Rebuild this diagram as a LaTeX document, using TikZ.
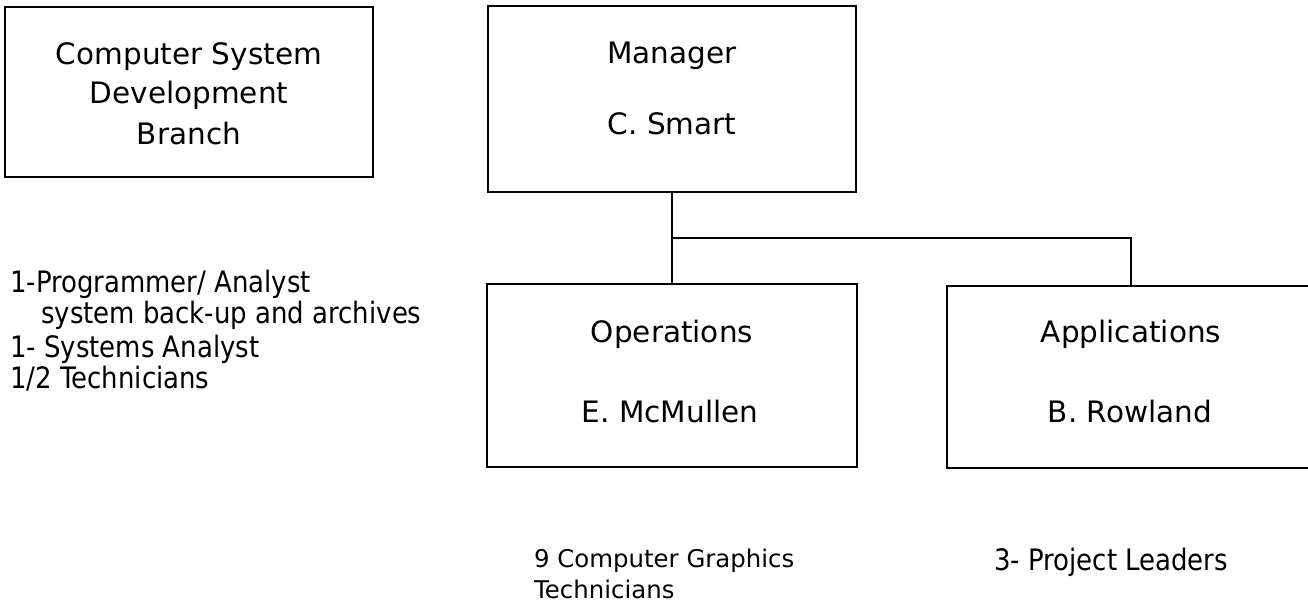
\documentclass[tikz,border=0pt]{standalone}
\usepackage{fontspec}
\setmainfont{DejaVu Sans}
\newfontfamily\narrowfam[FakeStretch=0.88]{DejaVu Sans}
\newcommand\bxfont{\fontsize{29.5}{35}\selectfont}
\newcommand\lstfont{\narrowfam\fontsize{29.5}{35}\selectfont}
\newcommand\btmfont{\fontsize{24.4}{30}\selectfont}
\begin{document}
\begin{tikzpicture}[x=1pt,y=-1pt,
  orgbox/.style={draw=black, line width=1.9pt, rectangle, inner sep=0pt, minimum width=368pt},
  ctext/.style={inner sep=0pt, anchor=base, font=\bxfont},
  ltext/.style={inner sep=0pt, anchor=base west, font=\lstfont},
  btext/.style={inner sep=0pt, anchor=base west, font=\btmfont},
  conn/.style={draw=black, line width=1.9pt}]
\useasboundingbox (0,0) rectangle (1308,607);
\fill[white] (0,0) rectangle (1308,607);
% boxes
\node[orgbox, minimum height=170pt] (branch) at (189,92) {};
\node[orgbox, minimum height=186pt] (mgr) at (672,99) {};
\node[orgbox, minimum width=370pt, minimum height=183pt] (ops) at (672,375.5) {};
\node[orgbox, minimum height=182pt] (app) at (1131,377) {};
% box texts
\node[ctext] (t1) at (189,65) {Computer System};
\node[ctext] (t2) at (189,104) {Development};
\node[ctext] (t3) at (189,144) {Branch};
\node[ctext] (t4) at (672,64) {Manager};
\node[ctext] (t5) at (672,135) {C. Smart};
\node[ctext] (t6) at (672,342) {Operations};
\node[ctext] (t7) at (670,422) {E. McMullen};
\node[ctext] (t8) at (1131,342) {Applications};
\node[ctext] (t9) at (1130,422) {B. Rowland};
% connectors
\coordinate (junc) at (672,238);
\draw[conn] (mgr.south) -- (ops.north);
\draw[conn] (junc) -| (app.north);
% left list
\node[ltext] (l1) at (10,292) {1-Programmer/ Analyst};
\node[ltext] (l2) at (41,323) {system back-up and archives};
\node[ltext] (l3) at (10,357) {1- Systems Analyst};
\node[ltext] (l4) at (10,388) {1/2 Technicians};
% bottom texts
\node[btext] (b1) at (534,567) {9 Computer Graphics};
\node[btext] (b2) at (534,598) {Technicians};
\node[ltext] (b3) at (994,570) {3- Project Leaders};
\end{tikzpicture}
\end{document}
